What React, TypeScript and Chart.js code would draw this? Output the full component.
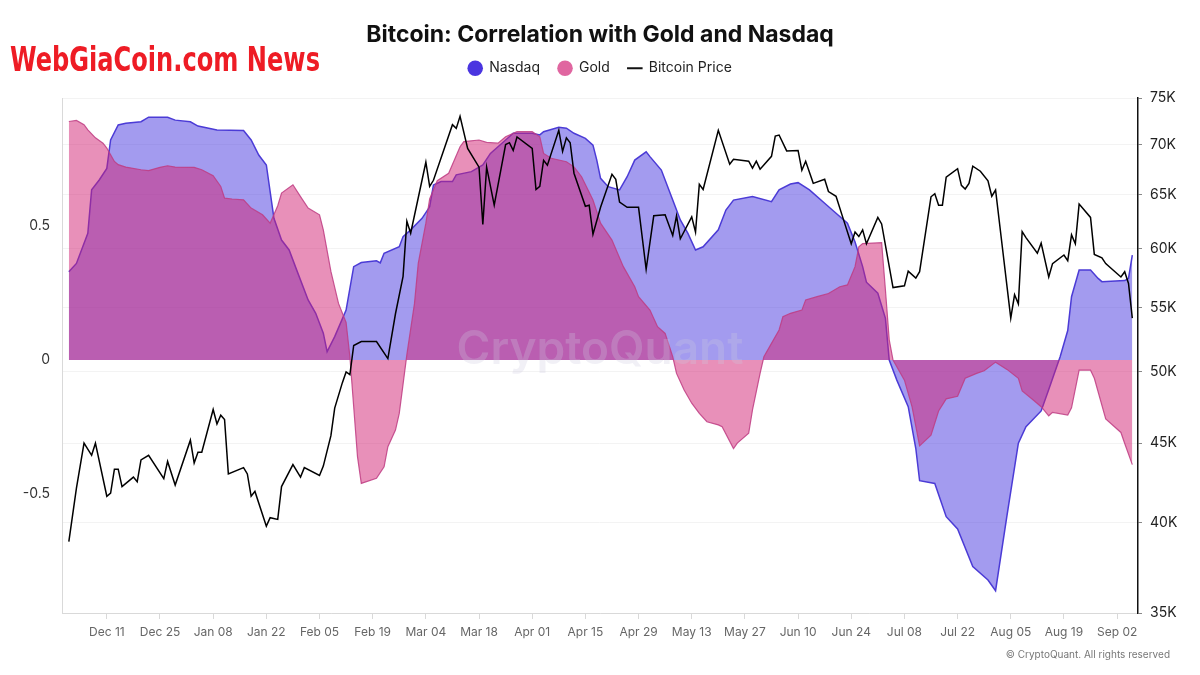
import React, { useEffect, useRef } from 'react';
import { Chart, registerables } from 'chart.js';

Chart.register(...registerables);

// Day index: 0 = 2023-12-01
const tickDays = [10, 24, 38, 52, 66, 80, 94, 108, 122, 136, 150, 164, 178, 192, 206, 220, 234, 248, 262, 276];
const tickLabels = ['Dec 11', 'Dec 25', 'Jan 08', 'Jan 22', 'Feb 05', 'Feb 19', 'Mar 04', 'Mar 18', 'Apr 01', 'Apr 15', 'Apr 29', 'May 13', 'May 27', 'Jun 10', 'Jun 24', 'Jul 08', 'Jul 22', 'Aug 05', 'Aug 19', 'Sep 02'];
const corrTicks = [-0.5, 0, 0.5];
const priceTicks = [35000, 40000, 45000, 50000, 55000, 60000, 65000, 70000, 75000];

const nasdaqDays = [0, 2, 5, 6, 8, 10, 11, 13, 15, 19, 21, 26, 28, 32, 34, 39, 46, 48, 50, 52, 54, 56, 58, 60, 63, 65, 67, 68, 70, 73, 75, 77, 81, 82, 83, 87, 88, 90, 93, 95, 96, 98, 101, 102, 106, 109, 111, 115, 117, 122, 124, 125, 129, 131, 133, 136, 138, 139, 140, 142, 145, 147, 149, 152, 153, 156, 159, 161, 163, 165, 167, 171, 173, 175, 180, 185, 187, 190, 192, 195, 199, 202, 205, 207, 209, 210, 213, 215, 216, 218, 221, 223, 224, 228, 231, 234, 238, 242, 244, 247, 250, 252, 256, 258, 261, 263, 264, 266, 269, 271, 272, 278, 279, 280];
const nasdaqCorr = [0.329, 0.36, 0.472, 0.634, 0.671, 0.714, 0.82, 0.876, 0.882, 0.888, 0.905, 0.905, 0.894, 0.888, 0.872, 0.857, 0.855, 0.82, 0.764, 0.727, 0.528, 0.447, 0.41, 0.335, 0.224, 0.174, 0.1, 0.031, 0.087, 0.186, 0.348, 0.363, 0.37, 0.362, 0.398, 0.422, 0.46, 0.485, 0.528, 0.571, 0.652, 0.665, 0.665, 0.69, 0.702, 0.727, 0.77, 0.82, 0.845, 0.845, 0.839, 0.851, 0.867, 0.864, 0.845, 0.826, 0.801, 0.745, 0.677, 0.646, 0.634, 0.683, 0.745, 0.776, 0.758, 0.708, 0.596, 0.522, 0.472, 0.41, 0.422, 0.485, 0.559, 0.596, 0.609, 0.59, 0.634, 0.656, 0.661, 0.634, 0.584, 0.547, 0.51, 0.44, 0.348, 0.29, 0.249, 0.155, 0.0, -0.075, -0.174, -0.33, -0.45, -0.46, -0.584, -0.63, -0.77, -0.82, -0.86, -0.58, -0.31, -0.249, -0.19, -0.11, 0.012, 0.11, 0.236, 0.335, 0.335, 0.304, 0.292, 0.296, 0.304, 0.391];

const goldDays = [0, 2, 4, 5, 7, 9, 10, 11, 12, 13, 15, 19, 21, 24, 26, 28, 33, 35, 38, 40, 41, 43, 46, 48, 51, 53, 55, 56, 59, 61, 63, 66, 67, 69, 71, 73, 74, 75, 76, 77, 81, 83, 84, 86, 87, 88, 89, 91, 92, 94, 95, 97, 100, 103, 104, 108, 110, 113, 115, 118, 122, 124, 125, 127, 131, 133, 135, 138, 140, 143, 146, 149, 150, 153, 155, 157, 159, 160, 162, 164, 166, 168, 171, 172, 175, 176, 179, 180, 182, 183, 185, 187, 188, 190, 193, 194, 197, 200, 203, 205, 207, 208, 209, 214, 215, 216, 217, 220, 222, 224, 227, 229, 231, 234, 236, 239, 241, 244, 247, 250, 251, 254, 256, 258, 259, 263, 264, 266, 269, 270, 273, 277, 278, 280];
const goldCorr = [0.889, 0.893, 0.877, 0.858, 0.828, 0.808, 0.79, 0.765, 0.74, 0.728, 0.719, 0.709, 0.706, 0.718, 0.724, 0.719, 0.718, 0.709, 0.687, 0.647, 0.603, 0.6, 0.597, 0.566, 0.541, 0.51, 0.575, 0.622, 0.653, 0.609, 0.566, 0.541, 0.485, 0.33, 0.211, 0.14, 0.012, -0.174, -0.36, -0.46, -0.441, -0.398, -0.323, -0.261, -0.199, -0.09, 0.02, 0.21, 0.36, 0.51, 0.6, 0.668, 0.696, 0.795, 0.814, 0.82, 0.811, 0.808, 0.832, 0.851, 0.851, 0.832, 0.77, 0.752, 0.739, 0.72, 0.683, 0.596, 0.51, 0.447, 0.348, 0.273, 0.236, 0.186, 0.124, 0.099, 0.012, -0.05, -0.112, -0.161, -0.199, -0.23, -0.242, -0.249, -0.33, -0.31, -0.273, -0.186, -0.05, 0.012, 0.062, 0.112, 0.161, 0.174, 0.186, 0.224, 0.236, 0.248, 0.273, 0.28, 0.348, 0.422, 0.434, 0.437, 0.261, 0.075, 0.0, -0.075, -0.174, -0.32, -0.28, -0.19, -0.145, -0.135, -0.068, -0.05, -0.04, -0.008, -0.035, -0.068, -0.115, -0.15, -0.174, -0.208, -0.195, -0.205, -0.178, -0.038, -0.038, -0.068, -0.22, -0.27, -0.311, -0.39];

const btcDays = [0, 2, 4, 6, 7, 10, 11, 12, 13, 14, 17, 18, 19, 21, 25, 26, 28, 32, 33, 34, 35, 38, 39, 40, 41, 42, 46, 47, 48, 49, 52, 53, 55, 56, 59, 61, 62, 66, 67, 69, 70, 72, 73, 74, 75, 77, 81, 84, 86, 88, 89, 90, 94, 95, 96, 101, 102, 103, 105, 108, 109, 110, 112, 115, 116, 117, 118, 122, 123, 124, 125, 126, 129, 130, 131, 132, 133, 136, 137, 138, 140, 143, 144, 145, 147, 150, 152, 154, 157, 159, 160, 161, 164, 165, 166, 167, 171, 174, 175, 179, 180, 181, 182, 185, 186, 187, 189, 192, 193, 194, 196, 199, 200, 202, 204, 206, 207, 208, 209, 210, 213, 214, 217, 220, 221, 223, 224, 227, 228, 229, 230, 231, 234, 235, 236, 237, 238, 240, 242, 243, 244, 248, 249, 250, 251, 252, 255, 256, 258, 259, 262, 263, 264, 265, 266, 269, 270, 272, 273, 277, 278, 279, 280];
const btcPrice = [38900, 42100, 45000, 44200, 45000, 41600, 41800, 43300, 43300, 42200, 42800, 42500, 43900, 44200, 42700, 43800, 42300, 45200, 43700, 44400, 44400, 47300, 46300, 46900, 46600, 43000, 43400, 43000, 41600, 41900, 39800, 40300, 40200, 42200, 43600, 42800, 43400, 42900, 43500, 45500, 47400, 49200, 50000, 49800, 52000, 52300, 52300, 51000, 54500, 57600, 62500, 61400, 68200, 65800, 66400, 72100, 71700, 73000, 69600, 67700, 62200, 67700, 64000, 70000, 70200, 69400, 70800, 69600, 65500, 65800, 68400, 67900, 71500, 69300, 70700, 70200, 67100, 63900, 64000, 61300, 63800, 67000, 66500, 64300, 63800, 63800, 58200, 63000, 63100, 61200, 63000, 60900, 62900, 61500, 66000, 65500, 71500, 68000, 68500, 68300, 67600, 68300, 67500, 68800, 70900, 71000, 69350, 69400, 67400, 68300, 66100, 66500, 65300, 64850, 62600, 60450, 61500, 61100, 61700, 60450, 62850, 62250, 56650, 56800, 58050, 57450, 58000, 64800, 65100, 64000, 64000, 66700, 67550, 65900, 65550, 66100, 67800, 67300, 66350, 64850, 65450, 54150, 56050, 55300, 61550, 61000, 59600, 60500, 57550, 58700, 59450, 58950, 61250, 60450, 64100, 62850, 59500, 59200, 58700, 57550, 58000, 57000, 54150];

const toPoints = (xs: number[], ys: number[]) => xs.map((x, i) => ({ x, y: ys[i] }));

const TITLE_BLOCK = 43.2;
const CHART_TOP = 98;

const legendSpacer = {
  id: 'legendSpacer',
  beforeInit(chart: any) {
    const legend = chart.legend;
    if (!legend) return;
    const orig = legend.fit;
    legend.fit = function () {
      orig.call(this);
      this.height = CHART_TOP - TITLE_BLOCK;
    };
  },
};

const decorations = {
  id: 'decorations',
  beforeDraw(chart: any) {
    const ctx = chart.ctx;
    ctx.save();
    ctx.fillStyle = '#ffffff';
    ctx.fillRect(0, 0, chart.width, chart.height);
    ctx.restore();
  },
  afterDatasetsDraw(chart: any) {
    const ctx = chart.ctx;
    ctx.save();
    ctx.font = '600 46px Inter, "Noto Sans", sans-serif';
    ctx.fillStyle = 'rgba(205, 200, 222, 0.28)';
    ctx.textAlign = 'center';
    ctx.textBaseline = 'middle';
    ctx.fillText('CryptoQuant', 600, 350);
    ctx.restore();
  },
  afterDraw(chart: any) {
    const ctx = chart.ctx;
    ctx.save();
    const text = 'WebGiaCoin.com News';
    ctx.font = 'bold 33px "DejaVu Sans Condensed", "DejaVu Sans", sans-serif';
    const w = ctx.measureText(text).width;
    ctx.translate(10, 71);
    ctx.scale(310 / w, 1);
    ctx.fillStyle = '#ee1c25';
    ctx.textBaseline = 'alphabetic';
    ctx.textAlign = 'left';
    ctx.fillText(text, 0, 0);
    ctx.restore();

    ctx.save();
    ctx.font = '10px Inter, "Noto Sans", sans-serif';
    ctx.fillStyle = '#777';
    ctx.textAlign = 'right';
    ctx.textBaseline = 'middle';
    ctx.fillText('\u00A9 CryptoQuant. All rights reserved', 1170, 655);
    ctx.restore();
  },
};

export default function App() {
  const ref = useRef<HTMLCanvasElement | null>(null);

  useEffect(() => {
    if (!ref.current) return;
    Chart.defaults.font.family = 'Inter, "Noto Sans", "DejaVu Sans", sans-serif';
    const chart = new Chart(ref.current, {
      type: 'line',
      data: {
        datasets: [
          {
            label: 'Nasdaq',
            data: toPoints(nasdaqDays, nasdaqCorr),
            yAxisID: 'y',
            borderColor: '#4b3bd6',
            borderWidth: 1.5,
            backgroundColor: 'rgba(71, 55, 223, 0.5)',
            fill: 'origin',
            pointRadius: 0,
            tension: 0,
            order: 2,
          },
          {
            label: 'Gold',
            data: toPoints(goldDays, goldCorr),
            yAxisID: 'y',
            borderColor: 'rgba(190, 60, 130, 0.85)',
            borderWidth: 1.2,
            backgroundColor: 'rgba(209, 33, 115, 0.5)',
            fill: 'origin',
            pointRadius: 0,
            tension: 0,
            order: 1,
          },
          {
            label: 'Bitcoin Price',
            data: toPoints(btcDays, btcPrice),
            yAxisID: 'y2',
            borderColor: '#000000',
            borderWidth: 1.5,
            backgroundColor: '#000000',
            fill: false,
            pointRadius: 0,
            tension: 0,
            order: 0,
          },
        ],
      },
      options: {
        responsive: false,
        animation: false,
        devicePixelRatio: 1,
        layout: { padding: 0 },
        plugins: {
          tooltip: { enabled: false },
          title: {
            display: true,
            text: 'Bitcoin: Correlation with Gold and Nasdaq',
            color: '#111111',
            font: { size: 23, weight: 'bold' },
            padding: { top: 21, bottom: -5.4 },
          },
          legend: {
            display: true,
            position: 'top',
            labels: {
              usePointStyle: true,
              boxWidth: 14,
              boxHeight: 11,
              padding: 18,
              color: '#222222',
              font: { size: 14 },
              sort: (a: any, b: any) => a.datasetIndex - b.datasetIndex,
              generateLabels: (chart: any) => {
                const items = Chart.defaults.plugins.legend.labels.generateLabels(chart);
                items.forEach((it: any) => {
                  if (it.datasetIndex === 0) {
                    it.fillStyle = '#4a35e0';
                    it.strokeStyle = '#4a35e0';
                    it.lineWidth = 0;
                    it.pointStyle = 'circle';
                  } else if (it.datasetIndex === 1) {
                    it.fillStyle = '#e066a0';
                    it.strokeStyle = '#e066a0';
                    it.lineWidth = 0;
                    it.pointStyle = 'circle';
                  } else {
                    it.fillStyle = '#111111';
                    it.strokeStyle = '#111111';
                    it.lineWidth = 2;
                    it.pointStyle = 'line';
                  }
                });
                return items;
              },
            },
          },
        },
        scales: {
          x: {
            type: 'linear',
            min: -1.8,
            max: 281.5,
            afterBuildTicks: (s: any) => {
              s.ticks = tickDays.map((v) => ({ value: v }));
            },
            afterFit: (s: any) => {
              s.height = 62;
            },
            grid: { drawOnChartArea: false, drawTicks: true, tickLength: 6, color: '#d9d9d9' },
            border: { color: '#d9d9d9' },
            ticks: {
              autoSkip: false,
              maxRotation: 0,
              padding: 6,
              color: '#666666',
              font: { size: 12 },
              callback: (v: any) => {
                const i = tickDays.indexOf(Number(v));
                return i >= 0 ? tickLabels[i] : '';
              },
            },
          },
          y: {
            type: 'linear',
            position: 'left',
            min: -0.943,
            max: 0.9765,
            afterBuildTicks: (s: any) => {
              s.ticks = corrTicks.map((v) => ({ value: v }));
            },
            afterFit: (s: any) => {
              s.width = 62;
            },
            grid: { display: false },
            border: { display: true, color: '#d9d9d9' },
            ticks: {
              padding: 4,
              color: '#333333',
              font: { size: 14 },
              callback: (v: any) => (Number(v) === 0 ? '0' : String(v)),
            },
          },
          y2: {
            type: 'logarithmic',
            position: 'right',
            min: 35000,
            max: 75000,
            afterBuildTicks: (s: any) => {
              s.ticks = priceTicks.map((v) => ({ value: v }));
            },
            afterFit: (s: any) => {
              s.width = 62;
            },
            grid: { drawOnChartArea: true, color: '#f3f3f3', tickLength: 4, tickColor: '#888888' },
            border: { display: true, color: '#111111', width: 1.5 },
            ticks: {
              padding: 8,
              color: '#222222',
              font: { size: 14 },
              callback: (v: any) => Math.round(Number(v) / 1000) + 'K',
            },
          },
        },
      },
      plugins: [legendSpacer, decorations],
    } as any);
    return () => chart.destroy();
  }, []);

  return (
    <div style={{ position: 'absolute', left: 0, top: 0, width: 1200, height: 675, background: '#ffffff' }}>
      <canvas ref={ref} width={1200} height={675} style={{ display: 'block', width: 1200, height: 675 }} />
    </div>
  );
}
